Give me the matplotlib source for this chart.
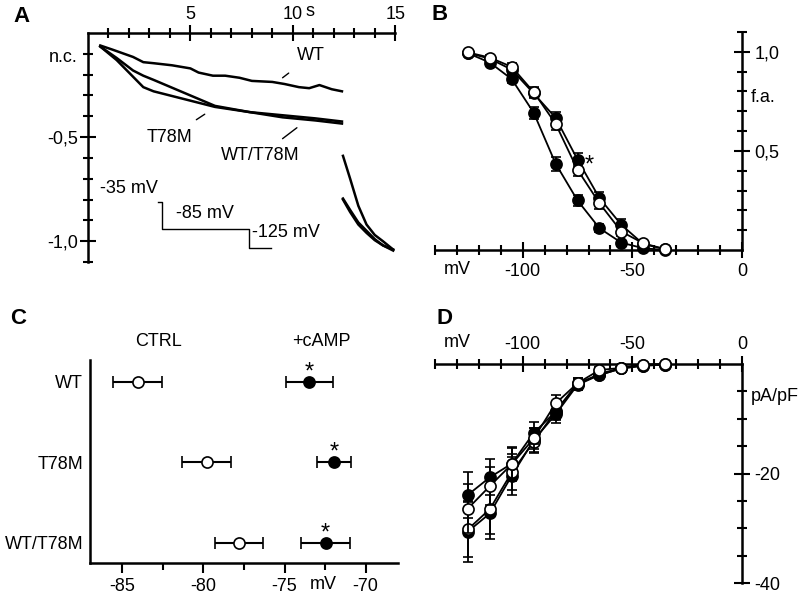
import numpy as np
import matplotlib
matplotlib.use("Agg")
import matplotlib.pyplot as plt
from matplotlib.ticker import FixedLocator

plt.rcParams['font.family'] = ['Liberation Sans', 'DejaVu Sans']
plt.rcParams['font.size'] = 13

# ---- panel A: normalized current traces (s, n.c.)
t_wt = [0.6, 1.2, 2.2, 2.7, 3.2, 4.1, 5.0, 5.4, 6.1, 6.7, 7.4, 8.0, 9.0, 9.6, 10.3, 10.8, 11.3, 11.9, 12.4]
i_wt = [-0.06, -0.08, -0.115, -0.14, -0.145, -0.155, -0.17, -0.19, -0.205, -0.205, -0.215, -0.23,
        -0.235, -0.245, -0.26, -0.265, -0.25, -0.27, -0.28]
t_mut = [0.6, 1.4, 2.2, 2.7, 3.2, 3.8, 5.0, 6.2, 7.9, 9.5, 11.1, 12.4]
i_t78m = [-0.065, -0.13, -0.21, -0.26, -0.28, -0.295, -0.325, -0.355, -0.38, -0.405, -0.42, -0.435]
i_het = [-0.065, -0.12, -0.18, -0.205, -0.225, -0.25, -0.30, -0.35, -0.38, -0.395, -0.41, -0.425]
t_tail = [12.45, 12.8, 13.2, 13.6, 14.0, 14.4, 14.9]
tail_wt = [-0.59, -0.7, -0.83, -0.92, -0.97, -1.0, -1.04]
tail_t78m = [-0.795, -0.85, -0.91, -0.95, -0.99, -1.02, -1.045]
tail_het = [-0.8, -0.86, -0.92, -0.96, -0.995, -1.02, -1.04]
protocol_t = [3.4, 3.6, 3.6, 7.86, 7.86, 8.95]
protocol_y = [-0.81, -0.81, -0.94, -0.94, -1.035, -1.035]

# ---- panel B: activation curves (mV, f.a.)
v_b = [-125, -115, -105, -95, -85, -75, -65, -55, -45, -35]
fa_left = [0.993, 0.946, 0.862, 0.693, 0.436, 0.25, 0.11, 0.037, 0.009, 0.0]
fa_left_err = [0.01, 0.015, 0.02, 0.03, 0.035, 0.03, 0.02, 0.015, 0.01, 0.005]
fa_right_f = [0.995, 0.965, 0.91, 0.79, 0.667, 0.456, 0.262, 0.127, 0.03, 0.004]
fa_right_f_err = [0.01, 0.015, 0.02, 0.025, 0.03, 0.034, 0.03, 0.03, 0.01, 0.005]
fa_right_o = [0.997, 0.971, 0.924, 0.797, 0.637, 0.405, 0.236, 0.093, 0.034, 0.004]
fa_right_o_err = [0.01, 0.015, 0.02, 0.025, 0.03, 0.03, 0.03, 0.02, 0.01, 0.005]

# ---- panel C: V1/2 (mV)
genotypes = ['WT', 'T78M', 'WT/T78M']
v_ctrl = [-84.06, -79.8, -77.82]
v_ctrl_err = [1.5, 1.5, 1.48]
v_camp = [-73.46, -71.95, -72.47]
v_camp_err = [1.45, 1.05, 1.5]

# ---- panel D: current densities (pA/pF)
v_d = [-125, -115, -105, -95, -85, -75, -65, -55, -45, -35]
d_f1 = [-23.9, -20.7, -18.2, -12.6, -8.7, -3.5, -2.0, -0.8, -0.3, -0.1]
d_f1_err = [4.2, 3.3, 3.0, 2.0, 1.5, 1.0, 0.6, 0.4, 0.3, 0.2]
d_o1 = [-26.4, -22.3, -18.3, -13.6, -7.2, -3.5, -1.1, -0.7, -0.1, 0.0]
d_o1_err = [4.5, 3.5, 3.0, 2.0, 1.5, 1.0, 0.6, 0.4, 0.3, 0.2]
d_f2 = [-30.6, -27.3, -20.4, -13.9, -9.2, -3.8, -2.0, -0.8, -0.3, -0.1]
d_f2_err = [5.5, 4.7, 3.5, 2.2, 1.6, 1.0, 0.6, 0.4, 0.3, 0.2]
d_o2 = [-30.2, -26.5, -19.8, -14.2, -8.6, -3.7, -1.8, -0.7, -0.2, 0.0]
d_o2_err = [5.0, 4.5, 3.3, 2.0, 1.5, 1.0, 0.6, 0.4, 0.3, 0.2]

fig = plt.figure(figsize=(8.0, 5.97), dpi=100)

def style_ticks(ax, axis, major, minor, labels, side):
    a = ax.xaxis if axis == 'x' else ax.yaxis
    a.set_major_locator(FixedLocator(major))
    a.set_minor_locator(FixedLocator(minor))
    a.set_ticklabels(labels)
    a.set_ticks_position(side)
    ax.tick_params(axis=axis, which='major', direction='inout', length=12, width=1.5)
    ax.tick_params(axis=axis, which='minor', direction='inout', length=7, width=1.5)

# ---------- A
axA = fig.add_axes([0.11, 0.5611, 0.384, 0.3836])
axA.set_xlim(0, 15)
axA.set_ylim(-1.1, 0)
for s in ['bottom', 'right']:
    axA.spines[s].set_visible(False)
for s in ['top', 'left']:
    axA.spines[s].set_linewidth(1.8)
style_ticks(axA, 'x', [5, 10, 15], np.arange(1, 15), ['5', '10', '15'], 'top')
style_ticks(axA, 'y', [-0.5, -1.0], np.arange(-1.1, 0.0, 0.1), ['-0,5', '-1,0'], 'left')
axA.tick_params(axis='x', pad=1)
axA.tick_params(axis='y', pad=1)
tr = dict(color='black', lw=1.8, clip_on=False)
axA.plot(t_wt, i_wt, **tr)
axA.plot(t_mut, i_t78m, **tr)
axA.plot(t_mut, i_het, **tr)
axA.plot(t_tail, tail_wt, **tr)
axA.plot(t_tail, tail_t78m, **tr)
axA.plot(t_tail, tail_het, **tr)
axA.plot(protocol_t, protocol_y, color='black', lw=1)
axA.text(-0.5, -0.12, 'n.c.', ha='right', va='center')
axA.text(3.4, -0.79, '-35 mV', ha='right', va='bottom')
axA.text(4.3, -0.91, '-85 mV', ha='left', va='bottom')
axA.text(8.0, -0.96, '-125 mV', ha='left', va='center')
axA.annotate('WT', xy=(9.5, -0.215), xytext=(10.9, -0.11), ha='center', va='center',
             arrowprops=dict(arrowstyle='-', lw=1, shrinkA=7, shrinkB=0))
axA.annotate('T78M', xy=(5.7, -0.39), xytext=(4.0, -0.5), ha='center', va='center',
             arrowprops=dict(arrowstyle='-', lw=1, shrinkA=8, shrinkB=0))
axA.annotate('WT/T78M', xy=(10.2, -0.455), xytext=(8.4, -0.59), ha='center', va='center',
             arrowprops=dict(arrowstyle='-', lw=1, shrinkA=7, shrinkB=0))
fig.text(310 / 800, 1 - 11 / 597, 's', ha='center', va='center')
fig.text(22 / 800, 1 - 17 / 597, 'A', fontsize=16, fontweight='bold', ha='center', va='center')

# ---------- B
axB = fig.add_axes([0.54375, 0.5812, 0.38375, 0.3652])
axB.set_xlim(-140, 0)
axB.set_ylim(0, 1.1)
for s in ['top', 'left']:
    axB.spines[s].set_visible(False)
for s in ['bottom', 'right']:
    axB.spines[s].set_linewidth(1.8)
style_ticks(axB, 'x', [-100, -50, 0], np.arange(-140, 0, 10), ['-100', '-50', '0'], 'bottom')
style_ticks(axB, 'y', [0.5, 1.0], np.arange(0.1, 1.15, 0.1), ['0,5', '1,0'], 'right')
axB.tick_params(axis='x', pad=3)
axB.tick_params(axis='y', pad=3)
ekw = dict(color='black', lw=1.3, capsize=3.5, capthick=1.3, ms=8, mec='black', mew=1.2, clip_on=False)
axB.errorbar(v_b, fa_right_f, yerr=fa_right_f_err, fmt='-o', mfc='black', zorder=3, **ekw)
axB.errorbar(v_b, fa_left, yerr=fa_left_err, fmt='-o', mfc='black', zorder=3, **ekw)
axB.errorbar(v_b, fa_right_o, yerr=fa_right_o_err, fmt='-o', mfc='white', zorder=4, **ekw)
axB.text(-69.5, 0.425, '*', fontsize=17, ha='center', va='center')
axB.text(-130, -0.1, 'mV', ha='center', va='center')
axB.text(4, 0.77, 'f.a.', ha='left', va='center')
fig.text(440 / 800, 1 - 15 / 597, 'B', fontsize=16, fontweight='bold', ha='center', va='center')

# ---------- C
axC = fig.add_axes([0.1125, 0.057, 0.385, 0.34])
axC.set_xlim(-87, -68)
axC.set_ylim(2.25, -0.27)
for s in ['top', 'right']:
    axC.spines[s].set_visible(False)
for s in ['bottom', 'left']:
    axC.spines[s].set_linewidth(1.8)
axC.xaxis.set_major_locator(FixedLocator([-85, -80, -75, -70]))
axC.xaxis.set_minor_locator(FixedLocator([-82.5, -77.5, -72.5]))
axC.set_xticklabels(['-85', '-80', '-75', '-70'])
axC.tick_params(axis='x', which='major', direction='out', length=7, width=1.5, pad=4)
axC.tick_params(axis='x', which='minor', direction='out', length=5, width=1.5)
axC.set_yticks(range(len(genotypes)))
axC.set_yticklabels(genotypes)
axC.tick_params(axis='y', length=0, pad=5)
ckw = dict(color='black', lw=1.5, capsize=4, capthick=1.5, ms=8, mec='black', mew=1.2)
ypos = np.arange(len(genotypes))
axC.errorbar(v_ctrl, ypos, xerr=v_ctrl_err, fmt='o', mfc='white', **ckw)
axC.errorbar(v_camp, ypos, xerr=v_camp_err, fmt='o', mfc='black', **ckw)
for vx, yy in zip(v_camp, ypos):
    axC.text(vx, yy - 0.12, '*', fontsize=17, ha='center', va='center')
axC.text(-72.6, 2.52, 'mV', ha='center', va='center')
axC.text(-82.8, -0.5, 'CTRL', ha='center', va='center')
axC.text(-72.7, -0.5, '+cAMP', ha='center', va='center')
fig.text(18 / 800, 1 - 318 / 597, 'C', fontsize=16, fontweight='bold', ha='center', va='center')

# ---------- D
axD = fig.add_axes([0.54375, 0.02345, 0.38375, 0.3668])
axD.set_xlim(-140, 0)
axD.set_ylim(-40, 0)
for s in ['bottom', 'left']:
    axD.spines[s].set_visible(False)
for s in ['top', 'right']:
    axD.spines[s].set_linewidth(1.8)
style_ticks(axD, 'x', [-100, -50, 0], np.arange(-140, 0, 10), ['-100', '-50', '0'], 'top')
style_ticks(axD, 'y', [-20, -40], np.arange(-35, 0, 5), ['-20', '-40'], 'right')
axD.tick_params(axis='x', pad=2)
axD.tick_params(axis='y', pad=3)
axD.errorbar(v_d, d_f2, yerr=d_f2_err, fmt='-o', mfc='black', zorder=3, **ekw)
axD.errorbar(v_d, d_o2, yerr=d_o2_err, fmt='-o', mfc='white', zorder=3, **ekw)
axD.errorbar(v_d, d_f1, yerr=d_f1_err, fmt='-o', mfc='black', zorder=4, **ekw)
axD.errorbar(v_d, d_o1, yerr=d_o1_err, fmt='-o', mfc='white', zorder=4, **ekw)
axD.text(-130, 3.9, 'mV', ha='center', va='center')
axD.text(4, -6, 'pA/pF', ha='left', va='center')
fig.text(445 / 800, 1 - 318 / 597, 'D', fontsize=16, fontweight='bold', ha='center', va='center')

fig.savefig('out.png', dpi=100)
